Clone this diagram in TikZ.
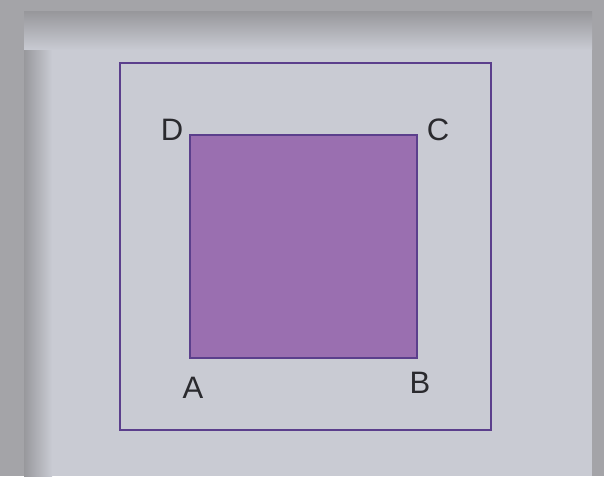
\documentclass[tikz,border=0pt]{standalone}
\usepackage{fontspec}
\setmainfont{Liberation Sans}
\definecolor{bgdark}{HTML}{A4A4A8}
\definecolor{paper}{HTML}{C9CBD3}
\definecolor{shade}{HTML}{98989C}
\definecolor{sqfill}{HTML}{9A6FB0}
\definecolor{edge}{HTML}{5B3F8C}
\definecolor{ink}{HTML}{2A2A2E}
\tikzset{
  lbl/.style={text=ink, font=\fontsize{31}{31}\selectfont, inner sep=0pt},
  outerbox/.style={draw=edge, line width=1.6pt},
  innerbox/.style={draw=edge, fill=sqfill, line width=1.6pt}
}
\begin{document}
\begin{tikzpicture}[x=1pt,y=-1pt]
\useasboundingbox (0,0) rectangle (604,476);
\fill[bgdark] (0,0) rectangle (604,476);
\fill[paper] (24,12) rectangle (592,476);
\fill[left color=shade, right color=paper] (24,12) rectangle (52,476);
\fill[top color=shade, bottom color=paper] (24,12) rectangle (592,50);
\node[lbl] (D) at (172,130) {D};
\node[lbl] (C) at (438,130) {C};
\node[lbl] (A) at (193,388) {A};
\node[lbl] (B) at (420,383) {B};
\draw[outerbox] (120,63) rectangle (491,430);
\draw[innerbox] (190,135) rectangle (417,358);
\end{tikzpicture}
\end{document}
